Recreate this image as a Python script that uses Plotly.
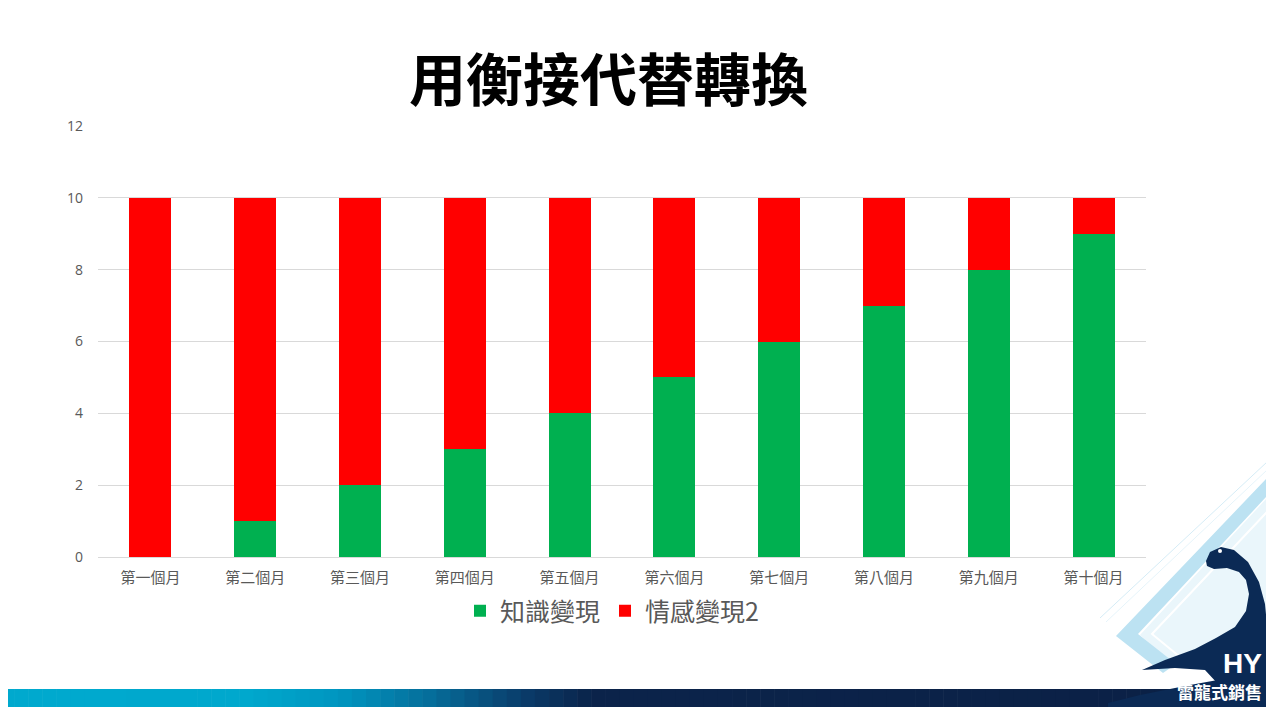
import plotly.graph_objects as go

months = ["第一個月", "第二個月", "第三個月", "第四個月", "第五個月",
          "第六個月", "第七個月", "第八個月", "第九個月", "第十個月"]
knowledge = [0, 1, 2, 3, 4, 5, 6, 7, 8, 9]
emotion = [10, 9, 8, 7, 6, 5, 4, 3, 2, 1]
series_names = ["知識變現", "情感變現2"]
title_text = "用衡接代替轉換"
brand_text = "雷龍式銷售"
y_ticks = [0, 2, 4, 6, 8, 10, 12]

# page body has an 8px margin; figure sized to fill the window exactly
OFF = 8
W, H = 1274 - 2 * OFF, 715 - 2 * OFF
# plot area in screen pixels
SL, SR, ST, SB = 98, 1146, 126, 557
L, R, T, B = SL - OFF, SR - OFF, ST - OFF, SB - OFF
PW, PH = R - L, B - T


def px(x):
    return (x - OFF - L) / PW


def py(y):
    return (B - (y - OFF)) / PH


def path(points):
    return "M " + " L ".join(f"{px(x):.5f},{py(y):.5f}" for x, y in points) + " Z"


CJK = "Noto Sans CJK TC"

fig = go.Figure()
fig.add_trace(go.Bar(x=months, y=knowledge, name=series_names[0],
                     marker=dict(color="#00B050", line=dict(width=0))))
fig.add_trace(go.Bar(x=months, y=emotion, name=series_names[1],
                     marker=dict(color="#FF0000", line=dict(width=0))))

shapes = []
# bottom gradient band
stops = [(0, (0, 170, 207)), (250, (0, 168, 205)), (340, (0, 150, 192)),
         (430, (6, 110, 155)), (520, (10, 62, 108)), (590, (11, 36, 75)),
         (1267, (11, 33, 70))]
n = 90
x0b, x1b = 0, 1267
for i in range(n):
    xa = x0b + (x1b - x0b) * i / n
    xb = x0b + (x1b - x0b) * (i + 1) / n + 0.6
    xm = (xa + xb) / 2
    c = stops[-1][1]
    for j in range(len(stops) - 1):
        if stops[j][0] <= xm <= stops[j + 1][0]:
            t = (xm - stops[j][0]) / (stops[j + 1][0] - stops[j][0])
            c = tuple(int(stops[j][1][k] + t * (stops[j + 1][1][k] - stops[j][1][k])) for k in range(3))
            break
    shapes.append(dict(type="rect", xref="paper", yref="paper",
                       x0=px(xa), x1=px(xb), y0=py(712), y1=py(689),
                       fillcolor=f"rgb{c}", line=dict(width=0), layer="below"))
# right light strip
shapes.append(dict(type="rect", xref="paper", yref="paper", x0=px(1268), x1=px(1274),
                   y0=py(715), y1=py(0), fillcolor="#F0F0F0", line=dict(width=0)))
# light diagonal lines
shapes.append(dict(type="path", xref="paper", yref="paper",
                   path=f"M {px(1267)},{py(462)} L {px(1100)},{py(618)}",
                   line=dict(color="#D5ECF6", width=1)))
shapes.append(dict(type="path", xref="paper", yref="paper",
                   path=f"M {px(1267)},{py(470)} L {px(1106)},{py(622)}",
                   line=dict(color="#E6F4FA", width=1)))
# inner pale chevron region
shapes.append(dict(type="path", xref="paper", yref="paper",
                   path=path([(1267, 498), (1267, 640), (1220, 650), (1172, 664), (1140, 635)]),
                   fillcolor="#EAF6FB", line=dict(width=0)))
# light blue chevron band
shapes.append(dict(type="path", xref="paper", yref="paper",
                   path=path([(1267, 478), (1267, 496), (1138, 634), (1176, 664),
                              (1163, 673), (1116, 636)]),
                   fillcolor="#BCE2F2", line=dict(width=0)))
# white inner chevron line
shapes.append(dict(type="path", xref="paper", yref="paper",
                   path=f"M {px(1267)},{py(512)} L {px(1152)},{py(634)} L {px(1180)},{py(657)}",
                   line=dict(color="#FFFFFF", width=2)))
navy = "#0B2A55"
# ground
shapes.append(dict(type="path", xref="paper", yref="paper",
                   path=path([(1108, 712), (1108, 703), (1140, 695), (1190, 685),
                              (1240, 676), (1267, 671), (1267, 712)]),
                   fillcolor=navy, line=dict(width=0)))
# dinosaur
shapes.append(dict(type="path", xref="paper", yref="paper",
                   path=path([(1206, 561), (1210, 552), (1221, 547), (1234, 550),
                              (1248, 562), (1259, 582), (1265, 604), (1267, 625),
                              (1267, 684), (1218, 684), (1205, 670), (1175, 668),
                              (1142, 670), (1165, 660), (1195, 649), (1216, 638),
                              (1235, 627), (1246, 611), (1249, 594), (1246, 580),
                              (1239, 572), (1227, 568), (1214, 569), (1207, 566)]),
                   fillcolor=navy, line=dict(width=0)))
# eye
shapes.append(dict(type="circle", xref="paper", yref="paper",
                   x0=px(1218), x1=px(1222), y0=py(553), y1=py(549),
                   fillcolor="#FFFFFF", line=dict(width=0)))

annotations = [
    dict(text=title_text, xref="paper", yref="paper", x=px(608), y=py(76),
         xanchor="center", yanchor="middle", showarrow=False,
         font=dict(family=CJK, size=57, color="#000000", weight="bold")),
    dict(text=brand_text, xref="paper", yref="paper", x=px(1219), y=py(691),
         xanchor="center", yanchor="middle", showarrow=False,
         font=dict(family=CJK, size=17, color="#FFFFFF", weight="bold")),
    dict(text="HY", xref="paper", yref="paper", x=px(1242), y=py(663),
         xanchor="center", yanchor="middle", showarrow=False,
         font=dict(family="Liberation Sans", size=28, color="#FFFFFF", weight="bold")),
]

fig.update_layout(
    width=W, height=H,
    margin=dict(l=L, r=W - R, t=T, b=H - B, pad=0),
    barmode="stack", bargap=0.6,
    plot_bgcolor="#FFFFFF", paper_bgcolor="#FFFFFF",
    font=dict(family=CJK, color="#595959"),
    showlegend=True,
    legend=dict(orientation="h", x=px(612), xanchor="center", y=py(611), yanchor="middle",
                font=dict(family=CJK, size=25, color="#595959"),
                itemwidth=30, traceorder="normal", bgcolor="rgba(0,0,0,0)"),
    xaxis=dict(showgrid=False, showline=True, linecolor="#D9D9D9", linewidth=1,
               ticks="", tickfont=dict(family=CJK, size=15, color="#595959"),
               ticklabelstandoff=7, fixedrange=True),
    yaxis=dict(range=[0, 12], tickvals=y_ticks, showgrid=True, gridcolor="#D9D9D9",
               gridwidth=1, zeroline=False, showline=False, ticks="",
               tickfont=dict(family="Open Sans", size=14, color="#595959"),
               ticklabelstandoff=14, fixedrange=True),
    shapes=shapes,
    annotations=annotations,
)

fig.write_html("out.html")
